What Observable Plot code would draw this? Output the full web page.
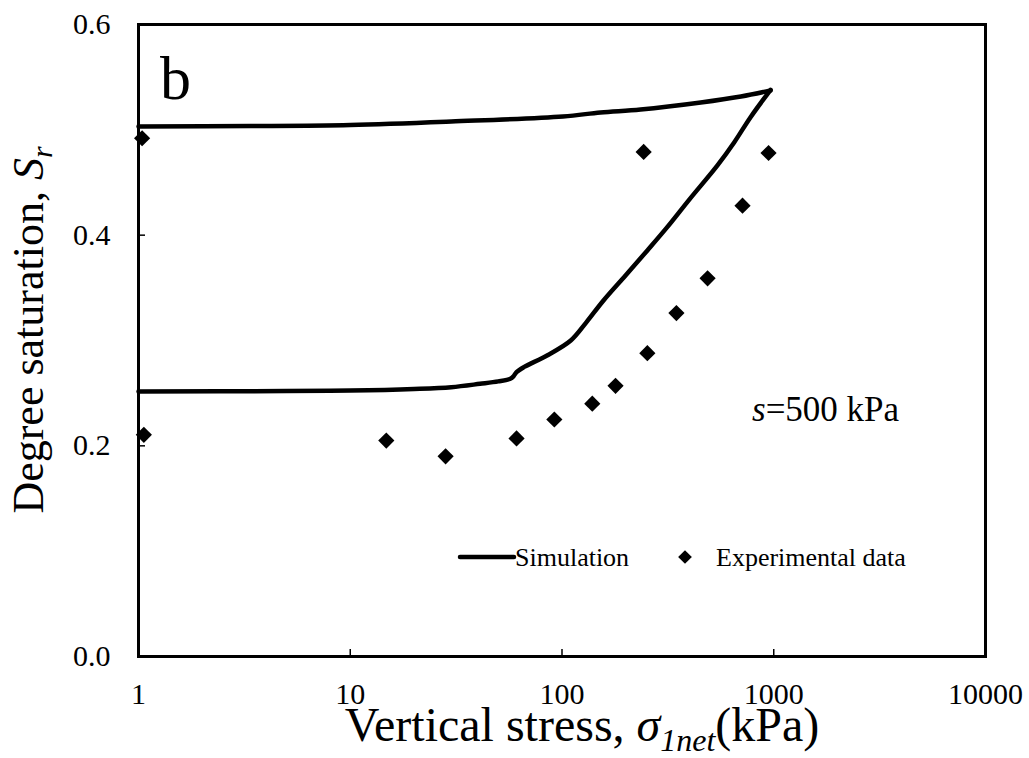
<!DOCTYPE html>
<html>
<head>
<meta charset="utf-8">
<script src="https://cdn.jsdelivr.net/npm/d3@7"></script>
<script src="https://cdn.jsdelivr.net/npm/@observablehq/plot@0.6"></script>
<style>
  html, body { margin: 0; padding: 0; background: #fff; }
  #chart svg { display: block; font-family: 'Liberation Serif', 'Times New Roman', serif; }
  #chart svg text { font-family: 'Liberation Serif', 'Times New Roman', serif; }
</style>
</head>
<body>
<div id="chart"></div>
<script>
// ---- Data ----
const xTicks = [1, 10, 100, 1000, 10000];
const yTicks = [0, 0.2, 0.4, 0.6];

// Simulation: loading branch
const loadX = [1, 5, 10, 20, 30, 41, 50, 57, 59, 61, 66, 85, 110, 130, 157, 200, 253, 314, 400, 541, 650, 777, 966];
const loadY = [0.2516, 0.2520, 0.2525, 0.2540, 0.2557, 0.2589, 0.2612, 0.2637, 0.2660, 0.2700, 0.2747, 0.2858, 0.3000, 0.3170, 0.3380, 0.3620, 0.3855, 0.4076, 0.4340, 0.4660, 0.4880, 0.5120, 0.5380];
// Simulation: unloading branch
const unloadX = [966, 700, 452, 235, 152, 101, 30, 10, 3.4, 1];
const unloadY = [0.5374, 0.5317, 0.5260, 0.5193, 0.5165, 0.5127, 0.5079, 0.5046, 0.5036, 0.5032];

// Experimental data
const expX = [1.04, 1.06, 14.8, 28.2, 61, 92, 139, 179, 253, 347, 487, 712, 243, 945];
const expY = [0.492, 0.2105, 0.205, 0.190, 0.207, 0.225, 0.240, 0.257, 0.288, 0.326, 0.359, 0.428, 0.479, 0.478];

const sim = [
  ...loadX.map((x, i) => ({x, y: loadY[i], branch: "load"})),
  ...unloadX.map((x, i) => ({x, y: unloadY[i], branch: "unload"}))
];
const exp = expX.map((x, i) => ({x, y: expY[i]}));

const FONT = "Liberation Serif, Times New Roman, serif";

const chart = Plot.plot({
  width: 1029,
  height: 758,
  marginLeft: 138,
  marginRight: 44,
  marginTop: 24,
  marginBottom: 102,
  style: {background: "#fff", color: "#000", fontFamily: FONT},
  x: {type: "log", domain: [1, 10000]},
  y: {domain: [0, 0.6]},
  marks: [
    // inward tick marks
    Plot.tickX(xTicks, {x: d => d, insetTop: 625, stroke: "#000", strokeWidth: 1.5}),
    Plot.tickY(yTicks, {y: d => d, insetRight: 840, stroke: "#000", strokeWidth: 1.5}),
    // tick labels
    Plot.axisX({ticks: xTicks, tickSize: 0, tickPadding: 26, tickFormat: d => String(d), label: null, fontSize: 30, fontFamily: FONT}),
    Plot.axisY({ticks: yTicks, tickSize: 0, tickPadding: 28, tickFormat: d3.format(".1f"), label: null, fontSize: 30, fontFamily: FONT}),
    Plot.line(sim, {x: "x", y: "y", z: "branch", stroke: "#000", strokeWidth: 4.5, curve: "catmull-rom", strokeLinecap: "round", strokeLinejoin: "round"}),
    Plot.dot(exp, {x: "x", y: "y", symbol: "diamond2", r: 7.3, fill: "#000", stroke: "none"}),
    Plot.frame({stroke: "#000", strokeWidth: 3})
  ]
});

document.getElementById("chart").appendChild(chart);

// ---- Annotations, axis titles, legend ----
const svg = d3.select(chart);
const g = svg.append("g").attr("font-family", FONT).attr("fill", "#000").attr("text-anchor", "start");

// panel letter
g.append("text").attr("x", 160).attr("y", 99).attr("font-size", 62).text("b");

// s = 500 kPa
const st = g.append("text").attr("x", 752).attr("y", 421).attr("font-size", 35);
st.append("tspan").attr("font-style", "italic").text("s");
st.append("tspan").text("=500 kPa");

// x-axis title
const xt = g.append("text").attr("x", 582).attr("y", 741).attr("font-size", 48).attr("text-anchor", "middle");
xt.append("tspan").text("Vertical stress, ");
xt.append("tspan").attr("font-style", "italic").text("σ");
xt.append("tspan").attr("font-style", "italic").attr("font-size", 32).attr("dy", 10).text("1net");
xt.append("tspan").attr("dy", -10).text("(kPa)");

// y-axis title
const yt = g.append("text")
  .attr("transform", "translate(43,330) rotate(-90)")
  .attr("text-anchor", "middle")
  .attr("font-size", 44);
yt.append("tspan").text("Degree saturation, ");
yt.append("tspan").attr("font-style", "italic").text("S");
yt.append("tspan").attr("font-style", "italic").attr("font-size", 30).attr("dy", 9).text("r");

// legend
const lg = g.append("g");
lg.append("line").attr("x1", 460).attr("x2", 514).attr("y1", 557).attr("y2", 557)
  .attr("stroke", "#000").attr("stroke-width", 4.5).attr("stroke-linecap", "round");
lg.append("text").attr("x", 515).attr("y", 566).attr("font-size", 26).text("Simulation");
lg.append("path").attr("d", d3.symbol(d3.symbolDiamond2, 120)()).attr("transform", "translate(685,557)");
lg.append("text").attr("x", 716).attr("y", 566).attr("font-size", 26).text("Experimental data");
</script>
</body>
</html>
